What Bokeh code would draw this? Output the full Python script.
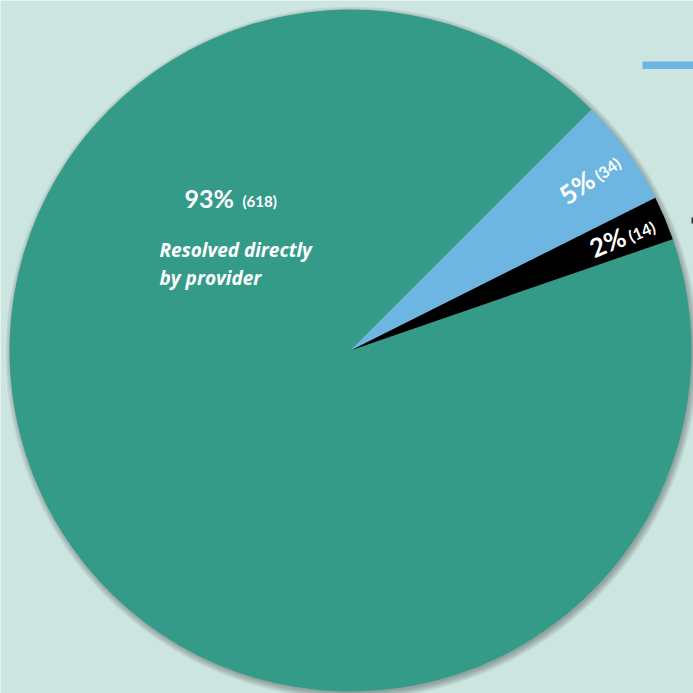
import math
from bokeh.plotting import figure
from bokeh.models import Range1d, ColumnDataSource
from bokeh.core.properties import value
from bokeh.embed import file_html
from bokeh.resources import INLINE

# ---- data ----
categories = ["Resolved directly by provider", "Escalated", "Other"]
counts = [618, 34, 14]
percents = ["93%", "5%", "2%"]
count_labels = ["(618)", "(34)", "(14)"]
colors = ["#359b89", "#6db6e1", "#000000"]

W = H = 693
BG = "#cce5e0"
CX, CY, R = 350, 693 - 350, 341
START = math.radians(45)  # angle where the green slice begins (counter-clockwise)

total = sum(counts)
fr = [c / total for c in counts]
# green counter-clockwise from START, then black, then blue back to START
g0, g1 = START, START + fr[0] * 2 * math.pi
k0, k1 = g1, g1 + fr[2] * 2 * math.pi
b0, b1 = k1, k1 + fr[1] * 2 * math.pi
starts = [g0, b0, k0]
ends = [g1, b1, k1]

src = ColumnDataSource(dict(cat=categories, start=starts, end=ends, color=colors))

p = figure(width=W, height=H, output_backend="svg", toolbar_location=None,
           x_range=Range1d(0, W), y_range=Range1d(0, H), min_border=0)
p.axis.visible = False
p.grid.visible = False
p.outline_line_color = None
p.background_fill_color = BG
p.border_fill_color = BG

# soft drop shadow
for i in range(8):
    p.circle(x=CX + 1.5, y=CY - 2.5, radius=R + 5.5 - i * 0.9, fill_color="#3a3a3a",
             fill_alpha=0.055, line_color=None)

p.wedge(x=CX, y=CY, radius=R, start_angle="start", end_angle="end",
        fill_color="color", line_color=None, source=src)

# main label
p.text(x=[184], y=[693 - 197], text=[percents[0]], text_color="white",
       text_font=value("Lato"), text_font_size="25px", text_font_style="bold",
       text_baseline="middle")
p.text(x=[242], y=[693 - 200], text=[count_labels[0]], text_color="white",
       text_font=value("Lato"), text_font_size="15px", text_font_style="bold",
       text_baseline="middle")
p.text(x=[159, 159], y=[693 - 249, 693 - 277], text=["Resolved directly", "by provider"],
       text_color="white", text_font=value("Open Sans"), text_font_size="19px",
       text_font_style="bold italic", text_baseline="middle")

# rotated labels on small slices
RL = 297
for idx, (s, e) in [(1, (b0, b1)), (2, (k0, k1))]:
    mid = (s + e) / 2
    x = CX + RL * math.cos(mid)
    y = CY + RL * math.sin(mid)
    p.text(x=[x], y=[y], text=[percents[idx]], angle=mid, text_color="white",
           text_font=value("Lato"), text_font_size="26px", text_font_style="bold",
           text_align="right", text_baseline="middle")
    # shift the small count label along the text direction and slightly down
    dx = 4 * math.cos(mid) + 3 * math.sin(mid)
    dy = 4 * math.sin(mid) - 3 * math.cos(mid)
    p.text(x=[x + dx], y=[y + dy], text=[count_labels[idx]],
           angle=mid, text_color="white", text_font=value("Lato"), text_font_size="16px",
           text_font_style="bold", text_align="left", text_baseline="middle")

# legend fragments at the right edge
p.quad(left=[642], right=[693], bottom=[693 - 68.5], top=[693 - 61], fill_color=colors[1], line_color=None)
p.quad(left=[691], right=[693], bottom=[693 - 223], top=[693 - 217], fill_color="#333333", line_color=None)

open("out.html", "w").write(file_html(p, INLINE))
